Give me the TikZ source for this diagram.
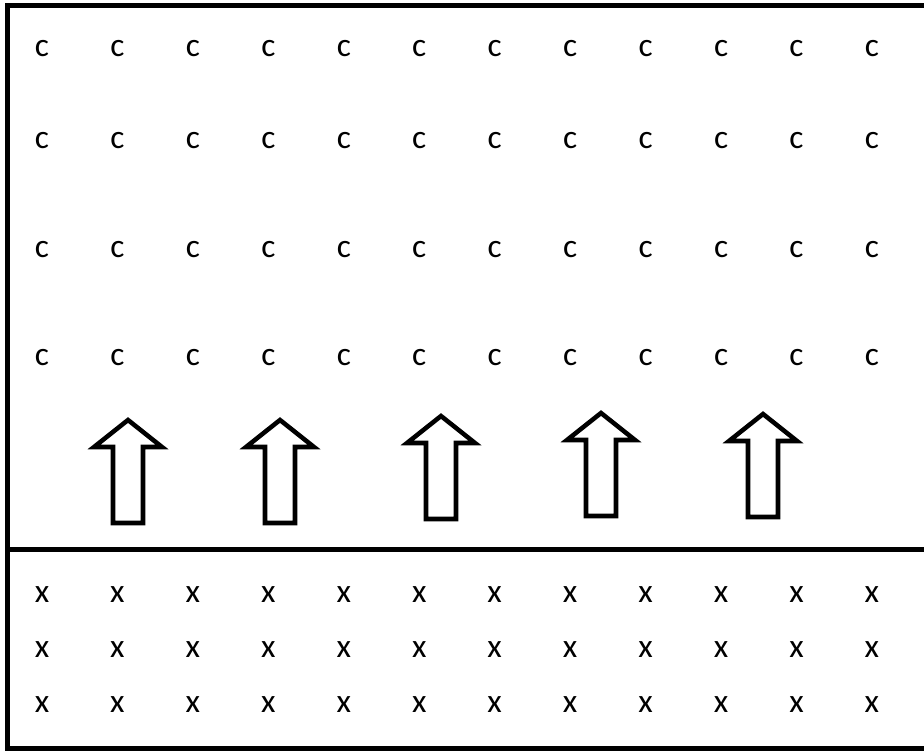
\documentclass[tikz,border=0pt]{standalone}
\usepackage{fontspec}
\setmainfont{Carlito}
\usepackage{tikz}

\begin{document}
\begin{tikzpicture}[x=0.75pt,y=-0.75pt,
    letter/.style={inner sep=0pt,font=\fontsize{25}{29}\selectfont},
    uparrow/.style={draw,line width=3.4pt,line join=miter,fill=white}]
    \useasboundingbox (0,0) rectangle (924,751);
    \draw[line width=3.75pt] (7.5,5.5) rectangle (932,748.5);
    \draw[line width=3.75pt] (7.5,549.5) -- (932,549.5);
    \foreach \r/\y in {1/49,2/141,3/250,4/358}
        \foreach \i in {0,...,11}
            \node[letter] (c-\r-\i) at ({42+75.45*\i},\y) {c};
    \foreach \r/\y in {1/595,2/650,3/705}
        \foreach \i in {0,...,11}
            \node[letter] (x-\r-\i) at ({42+75.45*\i},\y) {x};
    \foreach \cx/\tip/\bot in {128/420/523,280/420/523,441/416/519,601/413/516,763/414/517}
        \draw[uparrow] (\cx,\tip) -- ({\cx+34},{\tip+27}) -- ({\cx+15},{\tip+27})
            -- ({\cx+15},\bot) -- ({\cx-15},\bot) -- ({\cx-15},{\tip+27})
            -- ({\cx-34},{\tip+27}) -- cycle;
\end{tikzpicture}
\end{document}
